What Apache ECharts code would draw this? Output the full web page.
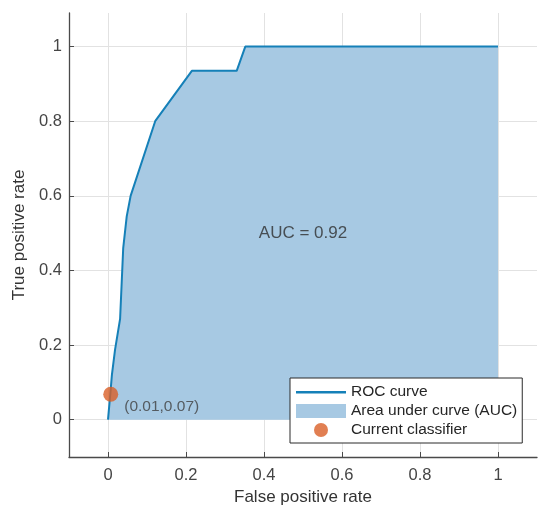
<!DOCTYPE html>
<html>
<head>
<meta charset="utf-8">
<script src="https://cdn.jsdelivr.net/npm/echarts@6/dist/echarts.min.js"></script>
<style>html,body{margin:0;padding:0;background:#fff;}#c{width:550px;height:518px;}</style>
</head>
<body>
<div id="c"></div>
<script>
// ROC curve points (false positive rate, true positive rate)
const rocFPR = [0, 0.006, 0.01, 0.018, 0.031, 0.039, 0.048, 0.058, 0.121, 0.215, 0.33, 0.352, 1];
const rocTPR = [0, 0.07, 0.12, 0.187, 0.27, 0.46, 0.545, 0.6, 0.8, 0.935, 0.935, 1, 1];
// current classifier operating point
const classifierPoint = [0.007, 0.068];
const classifierLabel = '(0.01,0.07)';
const aucText = 'AUC = 0.92';
const aucTextPos = [0.5, 0.5];
const tickValues = [0, 0.2, 0.4, 0.6, 0.8, 1];
const seriesNames = ['ROC curve', 'Area under curve (AUC)', 'Current classifier'];
const xTitle = 'False positive rate';
const yTitle = 'True positive rate';

const rocData = rocFPR.map((x, i) => [x, rocTPR[i]]);
const FONT = '"Liberation Sans", Arial, sans-serif';
const axisColor = '#4a4a4a';
const labelColor = '#454545';
const lineColor = '#1580b8';
const areaColor = '#a7c9e3';
const dotColor = '#d95f27';

function axisCommon(name, nameGap, labelMargin) {
  return {
    type: 'value',
    name: name,
    nameLocation: 'middle',
    nameGap: nameGap,
    nameTextStyle: { fontFamily: FONT, fontSize: 17, color: '#333' },
    axisLine: { show: true, onZero: false, lineStyle: { color: axisColor, width: 1.3 } },
    axisTick: { show: true, inside: true, length: 5, customValues: tickValues, lineStyle: { color: axisColor } },
    axisLabel: { customValues: tickValues, fontFamily: FONT, fontSize: 16.5, color: labelColor, margin: labelMargin },
    splitLine: { show: true, lineStyle: { color: '#e2e2e2', width: 1 } }
  };
}

// thin horizontal bar inside a full 50x14 bounding box (tiny corner marks keep the box size)
const lineIcon = 'path://M0,0L0.01,0L0,0.01Z M0,6L50,6L50,8.4L0,8.4Z M50,14L49.99,14L50,13.99Z';

const chart = echarts.init(document.getElementById('c'), null, { renderer: 'canvas' });
chart.setOption({
  animation: false,
  backgroundColor: '#fff',
  grid: { left: 69, right: 13, top: 13, bottom: 61, containLabel: false },
  xAxis: Object.assign(axisCommon(xTitle, 31, 10), { min: -0.1, max: 1.1 }),
  yAxis: Object.assign(axisCommon(yTitle, 40, 7), { min: -0.1, max: 1.09 }),
  legend: {
    orient: 'vertical',
    left: 290,
    top: 378,
    itemWidth: 50,
    itemHeight: 14,
    itemGap: 3,
    padding: [6, 5, 5, 6],
    backgroundColor: '#fff',
    borderColor: '#2b2b2b',
    borderWidth: 1,
    textStyle: { fontFamily: FONT, fontSize: 15.5, color: '#262626' },
    data: [
      { name: seriesNames[0], icon: lineIcon, itemStyle: { color: lineColor } },
      { name: seriesNames[1], icon: 'rect', itemStyle: { color: areaColor } },
      { name: seriesNames[2], icon: 'circle' }
    ]
  },
  series: [
    {
      name: seriesNames[1],
      type: 'line',
      data: rocData,
      symbol: 'none',
      lineStyle: { width: 0, color: areaColor },
      itemStyle: { color: areaColor },
      areaStyle: { color: areaColor, opacity: 1 },
      z: 2
    },
    {
      name: seriesNames[0],
      type: 'line',
      data: rocData,
      symbol: 'none',
      lineStyle: { width: 2, color: lineColor },
      itemStyle: { color: lineColor },
      z: 3
    },
    {
      name: seriesNames[2],
      type: 'scatter',
      data: [classifierPoint],
      symbolSize: 15,
      itemStyle: { color: dotColor },
      label: {
        show: true,
        position: 'right',
        distance: 6,
        offset: [0, 12],
        formatter: classifierLabel,
        fontFamily: FONT,
        fontSize: 15.5,
        color: '#404040'
      },
      z: 4
    },
    {
      name: 'auc-text',
      type: 'scatter',
      data: [aucTextPos],
      symbolSize: 0,
      silent: true,
      label: {
        show: true,
        position: 'inside',
        formatter: aucText,
        fontFamily: FONT,
        fontSize: 17,
        color: '#2e2e2e'
      },
      z: 5
    }
  ]
});
</script>
</body>
</html>
